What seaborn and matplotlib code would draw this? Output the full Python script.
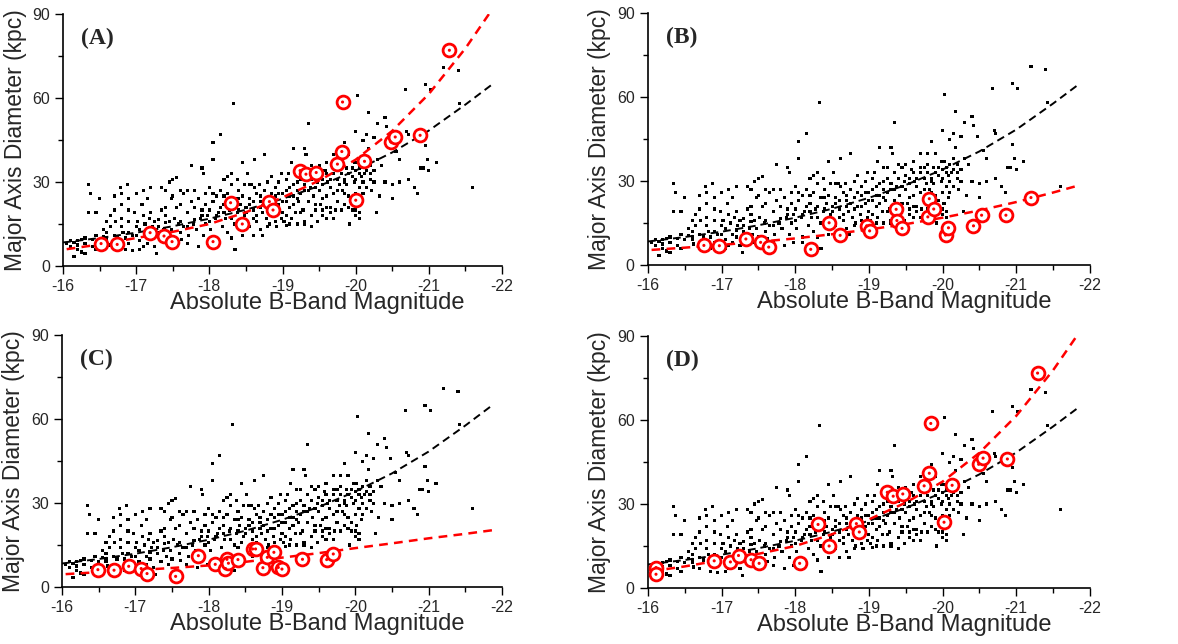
import numpy as np
import pandas as pd
import matplotlib
matplotlib.use('Agg')
import matplotlib.pyplot as plt
import seaborn as sns
from matplotlib.ticker import MultipleLocator

# background sample: (absolute B magnitude, major axis diameter in kpc)
galaxies = [
    (-16.05, 8), (-16.1, 9), (-16.1, 7), (-16.15, 3.5), (-16.2, 9), (-16.2, 6), (-16.25, 9.5), (-16.25, 5),
    (-16.3, 8), (-16.3, 4.5), (-16.35, 29), (-16.38, 26), (-16.35, 19), (-16.4, 9.5), (-16.4, 7), (-16.45, 19),
    (-16.45, 6), (-16.5, 24), (-16.55, 13), (-16.6, 12), (-16.6, 10), (-16.65, 18), (-16.65, 14), (-16.7, 25),
    (-16.7, 20), (-16.72, 16), (-16.75, 10), (-16.78, 28), (-16.8, 22), (-16.8, 17), (-16.8, 26), (-16.82, 12),
    (-16.85, 10), (-16.85, 6), (-16.88, 29), (-16.9, 24), (-16.9, 20), (-16.9, 16), (-16.95, 11), (-16.95, 5.5),
    (-16.98, 19), (-16.6, 9), (-16.62, 7.5), (-16.7, 11),
    (-17.0, 26), (-17.02, 16), (-17.05, 13), (-17.05, 9), (-17.08, 22), (-17.1, 27), (-17.1, 18), (-17.12, 15),
    (-17.15, 24), (-17.15, 11), (-17.18, 17), (-17.2, 28), (-17.2, 10), (-17.22, 14), (-17.25, 16), (-17.25, 7),
    (-17.28, 4.5), (-17.3, 16.5), (-17.3, 12), (-17.35, 20), (-17.35, 9), (-17.38, 13), (-17.4, 27), (-17.4, 18),
    (-17.42, 11), (-17.45, 30), (-17.45, 16), (-17.45, 8), (-17.48, 24), (-17.48, 13), (-17.05, 6), (-17.15, 8),
    (-17.35, 28),
    (-17.5, 31), (-17.5, 25), (-17.52, 17), (-17.55, 31.5), (-17.55, 21), (-17.58, 15), (-17.6, 27), (-17.6, 12),
    (-17.62, 9.5), (-17.65, 26), (-17.65, 14), (-17.7, 27), (-17.7, 19), (-17.72, 11), (-17.75, 36), (-17.75, 23),
    (-17.78, 15), (-17.8, 27), (-17.8, 21), (-17.82, 13), (-17.85, 24), (-17.85, 7), (-17.88, 17), (-17.9, 35),
    (-17.9, 20), (-17.92, 33), (-17.92, 11), (-17.95, 22), (-17.95, 15), (-17.98, 18), (-17.98, 8),
    (-18.0, 28), (-18.0, 20), (-18.02, 13), (-18.05, 44), (-18.05, 38), (-18.05, 23), (-18.08, 17), (-18.1, 25),
    (-18.1, 10), (-18.12, 19), (-18.15, 47), (-18.15, 27), (-18.18, 14), (-18.2, 31), (-18.2, 22), (-18.22, 17),
    (-18.25, 32), (-18.25, 26), (-18.25, 12), (-18.28, 20), (-18.3, 33), (-18.3, 29), (-18.3, 17), (-18.33, 58),
    (-18.35, 24), (-18.35, 6), (-18.38, 31), (-18.38, 19), (-18.4, 27), (-18.4, 14), (-18.42, 22), (-18.45, 37),
    (-18.45, 25), (-18.45, 11), (-18.48, 18), (-18.48, 29),
    (-18.5, 21), (-18.52, 33), (-18.55, 24), (-18.55, 14), (-18.58, 29), (-18.6, 20), (-18.6, 11), (-18.62, 38),
    (-18.65, 26), (-18.65, 16), (-18.68, 29), (-18.7, 23), (-18.7, 13), (-18.72, 19), (-18.75, 40), (-18.75, 27),
    (-18.78, 17), (-18.8, 24), (-18.8, 30), (-18.82, 15), (-18.85, 32), (-18.85, 21), (-18.88, 18), (-18.9, 28),
    (-18.9, 25), (-18.92, 14), (-18.95, 30), (-18.95, 22), (-18.98, 17), (-18.98, 33), (-18.62, 28), (-18.55, 29),
    (-18.73, 11),
    (-19.0, 26), (-19.0, 19), (-19.02, 16), (-19.05, 31), (-19.05, 23), (-19.08, 33), (-19.1, 28), (-19.1, 21),
    (-19.12, 17), (-19.15, 42), (-19.15, 25), (-19.18, 19), (-19.2, 35), (-19.2, 30), (-19.2, 15), (-19.22, 23),
    (-19.25, 26), (-19.28, 20), (-19.3, 42), (-19.3, 27), (-19.3, 16), (-19.32, 40), (-19.35, 51), (-19.35, 33),
    (-19.35, 23), (-19.38, 28), (-19.4, 36), (-19.4, 18), (-19.42, 25), (-19.45, 35), (-19.45, 20), (-19.48, 30),
    (-19.48, 16), (-19.12, 37), (-19.25, 35),
    (-19.5, 36), (-19.5, 27), (-19.52, 22), (-19.55, 31), (-19.55, 18), (-19.58, 34), (-19.6, 37), (-19.6, 25),
    (-19.6, 17), (-19.62, 30), (-19.65, 28), (-19.65, 21), (-19.7, 33), (-19.7, 26), (-19.72, 20), (-19.75, 31),
    (-19.75, 23), (-19.78, 29), (-19.8, 40), (-19.8, 33), (-19.8, 20), (-19.82, 27), (-19.85, 44), (-19.85, 31),
    (-19.85, 22), (-19.88, 35), (-19.88, 29), (-19.9, 40), (-19.9, 25), (-19.92, 15), (-19.95, 32), (-19.95, 20),
    (-19.98, 30), (-19.98, 37), (-19.7, 40),
    (-20.0, 48), (-20.0, 34), (-20.0, 26), (-20.0, 18), (-20.02, 37), (-20.02, 22), (-20.03, 61), (-20.05, 35),
    (-20.05, 28), (-20.05, 19), (-20.08, 32), (-20.08, 24), (-20.1, 36), (-20.1, 30), (-20.12, 33), (-20.15, 47),
    (-20.15, 38), (-20.15, 28), (-20.18, 42), (-20.18, 55), (-20.2, 36), (-20.2, 31), (-20.22, 27), (-20.25, 46),
    (-20.25, 34), (-20.28, 19), (-20.3, 51), (-20.3, 38), (-20.32, 25), (-20.35, 36), (-20.4, 53), (-20.4, 30),
    (-20.42, 50), (-20.48, 46), (-20.5, 29), (-20.5, 24), (-20.1, 45),
    (-20.55, 41), (-20.6, 30), (-20.6, 38), (-20.68, 63), (-20.7, 48), (-20.72, 31), (-20.72, 47), (-20.8, 28),
    (-20.85, 26), (-20.88, 35), (-20.92, 35), (-20.95, 65), (-20.95, 43), (-20.98, 38), (-21.0, 34),
    (-21.02, 63), (-21.1, 37), (-21.2, 71), (-21.4, 70), (-21.42, 58), (-21.6, 28),
    (-16.15, 8.5), (-16.5, 9), (-16.55, 10.5), (-16.7, 7), (-16.9, 12), (-17.0, 11), (-17.2, 12.5), (-17.3, 14),
    (-17.4, 15.5), (-17.6, 16), (-17.7, 14), (-17.8, 16.5), (-17.9, 18), (-18.0, 16), (-18.1, 18), (-18.2, 19),
    (-18.3, 21), (-18.4, 20), (-18.5, 19), (-18.55, 22), (-18.6, 23), (-18.7, 21), (-18.75, 22), (-18.8, 20),
    (-18.9, 21), (-18.95, 26), (-19.0, 23), (-19.05, 27), (-19.1, 25), (-19.15, 29), (-19.2, 27), (-19.25, 31),
    (-19.3, 29), (-19.35, 27), (-19.4, 31), (-19.45, 28), (-19.5, 32), (-19.55, 29), (-19.6, 33), (-19.65, 31),
    (-19.7, 35), (-19.75, 27), (-19.8, 36), (-19.85, 26), (-19.9, 33), (-19.95, 35), (-20.0, 31), (-20.05, 33),
    (-20.1, 26), (-20.15, 34), (-20.2, 33), (-20.25, 30), (-18.15, 21), (-18.35, 15), (-18.45, 16), (-18.65, 18),
    (-18.85, 26), (-19.05, 18), (-19.15, 22), (-19.25, 19), (-19.45, 22), (-19.55, 24), (-19.65, 19), (-19.75, 35),
    (-19.9, 21), (-19.05, 14.5), (-19.3, 15), (-18.9, 16), (-18.8, 14), (-19.55, 20), (-19.6, 21), (-19.95, 23),
    (-20.0, 20), (-19.85, 30), (-19.2, 24), (-18.6, 17), (-18.7, 25), (-18.4, 24), (-18.2, 25), (-18.05, 26),
    (-17.95, 26), (-17.6, 22), (-17.4, 21), (-17.2, 19), (-17.0, 14), (-16.8, 14), (-16.6, 16), (-16.45, 11),
    (-16.3, 10), (-16.2, 7.5), (-16.9, 8), (-17.1, 7), (-17.5, 10), (-17.7, 8), (-18.1, 8), (-18.3, 10),
    (-19.1, 15), (-19.4, 14), (-19.7, 17), (-20.05, 17),
]
bg = pd.DataFrame(galaxies, columns=['mag', 'diam'])

# fitted trend for the whole sample (black dashed)
fit_mag = [-16.0, -16.5, -17.0, -17.5, -18.0, -18.5, -19.0, -19.5, -20.0, -20.5, -21.0, -21.5, -21.87]
fit_all = [8.4, 10.0, 11.9, 14.2, 16.9, 20.1, 24.0, 28.6, 34.1, 40.6, 48.4, 57.7, 65.0]

# subsamples (red)
a_mag = [-16.52, -16.74, -17.19, -17.38, -17.49, -18.05, -18.29, -18.45, -18.82, -18.87, -19.24,
         -19.32, -19.46, -19.75, -19.81, -19.82, -20.0, -20.12, -20.48, -20.54, -20.88, -21.28]
a_diam = [8.0, 7.7, 11.9, 10.7, 8.7, 8.7, 22.6, 15.0, 23.0, 20.0, 34.1,
          32.8, 33.4, 36.4, 40.9, 58.6, 23.5, 37.4, 44.3, 46.1, 46.7, 77.1]
a_fit_mag = [-16.05, -16.5, -17.0, -17.5, -18.0, -18.5, -19.0, -19.5, -20.0, -20.5, -21.0, -21.5, -21.82]
a_fit = [6.0, 7.7, 10.0, 12.2, 15.0, 19.2, 24.5, 30.5, 38.0, 48.3, 61.5, 77.8, 90.0]

b_mag = [-16.76, -16.97, -17.33, -17.53, -17.64, -18.21, -18.46, -18.61, -18.97, -19.01, -19.37,
         -19.38, -19.45, -19.8, -19.82, -19.88, -20.04, -20.08, -20.42, -20.53, -20.86, -21.2]
b_diam = [7.0, 6.9, 9.3, 8.1, 6.4, 5.6, 15.1, 10.6, 14.0, 12.2, 19.9,
          15.9, 13.1, 17.2, 23.7, 20.0, 10.7, 13.3, 14.0, 17.8, 17.8, 24.1]
b_fit_mag = [-16.05, -16.5, -17.0, -17.5, -18.0, -18.5, -19.0, -19.5, -20.0, -20.5, -21.0, -21.5, -21.87]
b_fit = [5.4, 6.2, 7.2, 8.3, 9.5, 11.0, 12.7, 14.6, 16.9, 19.5, 22.5, 25.9, 28.6]

c_mag = [-16.49, -16.71, -16.91, -17.08, -17.16, -17.55, -17.86, -18.09, -18.23, -18.25, -18.27,
         -18.4, -18.6, -18.64, -18.74, -18.8, -18.89, -18.95, -19.0, -19.28, -19.61, -19.7]
c_diam = [6.2, 6.0, 7.4, 6.6, 4.8, 3.8, 11.2, 8.1, 6.6, 9.9, 8.5,
          9.8, 13.6, 13.6, 6.9, 10.6, 12.4, 7.0, 6.4, 9.9, 9.8, 11.8]
c_fit_mag = [-16.05, -16.5, -17.0, -17.5, -18.0, -18.5, -19.0, -19.5, -20.0, -20.5, -21.0, -21.5, -21.87]
c_fit = [4.6, 5.3, 6.0, 6.8, 7.7, 9.0, 10.5, 12.1, 13.9, 15.6, 17.4, 19.0, 20.3]

d_mag = [-16.11, -16.11, -16.9, -17.12, -17.23, -17.4, -17.51, -18.06, -18.31, -18.46, -18.83, -18.87,
         -19.25, -19.33, -19.46, -19.75, -19.82, -19.84, -20.02, -20.13, -20.49, -20.55, -20.88, -21.29]
d_diam = [7.3, 4.9, 9.7, 9.3, 11.6, 10.1, 8.8, 8.8, 22.7, 15.0, 23.0, 20.0,
          34.2, 32.8, 33.6, 36.5, 41.0, 58.8, 23.5, 36.7, 44.2, 46.4, 46.1, 76.8]

panels = [
    ('(A)', a_mag, a_diam, a_fit_mag, a_fit),
    ('(B)', b_mag, b_diam, b_fit_mag, b_fit),
    ('(C)', c_mag, c_diam, c_fit_mag, c_fit),
    ('(D)', d_mag, d_diam, a_fit_mag, a_fit),
]
# axes rectangles [left, bottom, width, height] in figure fractions
boxes = [
    [0.0535, 0.587, 0.3727, 0.391],
    [0.5500, 0.5885, 0.3752, 0.391],
    [0.0526, 0.0885, 0.3735, 0.391],
    [0.5500, 0.0870, 0.3752, 0.391],
]

sns.set_style('ticks')
plt.rcParams['font.family'] = ['Liberation Sans', 'DejaVu Sans']

fig = plt.figure(figsize=(11.78, 6.44), dpi=100)

for (label, mag, diam, fmag, fval), box in zip(panels, boxes):
    ax = fig.add_axes(box)
    sns.scatterplot(data=bg, x='mag', y='diam', ax=ax, marker='s', s=5,
                    color='black', edgecolor='none', linewidth=0, zorder=2)
    sns.lineplot(x=fit_mag, y=fit_all, ax=ax, color='black', linestyle=(0, (4, 2.5)),
                 linewidth=1.4, estimator=None, sort=False, zorder=3)
    sns.lineplot(x=fmag, y=fval, ax=ax, color='#ff0000', linestyle=(0, (3.5, 2.5)),
                 linewidth=1.8, estimator=None, sort=False, zorder=4)
    sns.scatterplot(x=mag, y=diam, ax=ax, marker='o', s=85, facecolor='white',
                    edgecolor='#ff0000', linewidth=2.0, zorder=5)
    sns.scatterplot(x=mag, y=diam, ax=ax, marker='o', s=5, color='#ff0000',
                    edgecolor='none', linewidth=0, zorder=6)

    ax.set_xlim(-16, -22)
    ax.set_ylim(0, 90)
    ax.xaxis.set_major_locator(MultipleLocator(1))
    ax.xaxis.set_minor_locator(MultipleLocator(0.5))
    ax.yaxis.set_major_locator(MultipleLocator(30))
    ax.yaxis.set_minor_locator(MultipleLocator(15))
    ax.tick_params(which='major', direction='out', length=6, width=1.0, labelsize=11.5, color='black')
    ax.tick_params(which='minor', direction='out', length=3.5, width=1.0, color='black')
    ax.set_xticklabels([f'{int(v)}' for v in ax.get_xticks()])
    for sp in ['top', 'right']:
        ax.spines[sp].set_visible(False)
    for sp in ['left', 'bottom']:
        ax.spines[sp].set_linewidth(1.2)
        ax.spines[sp].set_color('black')
    ax.set_xlabel('Absolute B-Band Magnitude', fontsize=17)
    ax.xaxis.set_label_coords(0.58, -0.105)
    ax.set_ylabel('Major Axis Diameter (kpc)', fontsize=16.5, labelpad=4)
    ax.text(0.04, 0.945, label, transform=ax.transAxes, fontsize=17, fontweight='bold',
            family=['Liberation Serif', 'DejaVu Serif'], va='top', ha='left')
    if ax.get_legend() is not None:
        ax.get_legend().remove()

fig.savefig('out.png', dpi=100)
